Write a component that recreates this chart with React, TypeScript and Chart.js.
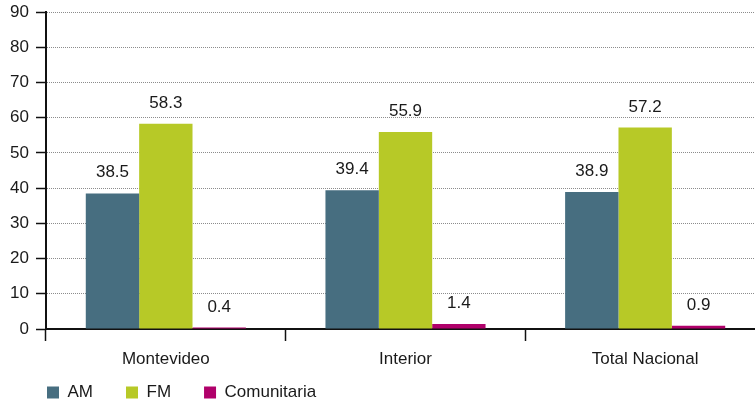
import React, { useEffect, useRef } from "react";
import { Chart, registerables } from "chart.js";

Chart.register(...registerables);

const categories = ["Montevideo", "Interior", "Total Nacional"];
const seriesNames = ["AM", "FM", "Comunitaria"];
const amValues = [38.5, 39.4, 38.9];
const fmValues = [58.3, 55.9, 57.2];
const comValues = [0.4, 1.4, 0.9];
const yMin = 0;
const yMax = 90;
const yStep = 10;

const FONT = "'Liberation Sans', Arial, sans-serif";
const FS = 17;
const TEXT = "#1a1a1a";
const colors = ["#476e80", "#b7c927", "#b0006a"];

const valueLabels = {
  id: "valueLabels",
  afterDatasetsDraw(chart: any) {
    const ctx = chart.ctx;
    ctx.save();
    ctx.font = `${FS}px ${FONT}`;
    ctx.fillStyle = TEXT;
    ctx.textAlign = "center";
    ctx.textBaseline = "alphabetic";
    chart.data.datasets.forEach((ds: any, di: number) => {
      const meta = chart.getDatasetMeta(di);
      meta.data.forEach((el: any, i: number) => {
        ctx.fillText(Number(ds.data[i]).toFixed(1), el.x, el.y - 16);
      });
    });
    ctx.restore();
  },
};

// nudge the legend row up/right so it sits like the reference
const legendPlace = {
  id: "legendPlace",
  afterLayout(chart: any) {
    const lg = chart.legend;
    if (!lg) return;
    lg.top -= 23;
    lg.left += 4;
  },
};

export default function App() {
  const ref = useRef<HTMLCanvasElement>(null);
  useEffect(() => {
    if (!ref.current) return;
    const chart = new Chart(ref.current, {
      type: "bar",
      data: {
        labels: categories,
        datasets: [amValues, fmValues, comValues].map((d, i) => ({
          label: seriesNames[i],
          data: d,
          backgroundColor: colors[i],
          borderWidth: 0,
          categoryPercentage: 0.668,
          barPercentage: 1,
        })),
      },
      options: {
        responsive: false,
        animation: false,
        events: [],
        layout: { padding: { left: 10, top: 12, right: 0, bottom: 0 } },
        plugins: {
          legend: {
            position: "bottom",
            align: "start",
            maxHeight: 28,
            labels: {
              boxWidth: 12,
              boxHeight: 12,
              padding: 33,
              color: TEXT,
              font: { family: FONT, size: FS },
            },
          },
          tooltip: { enabled: false },
        },
        scales: {
          x: {
            afterFit: (s: any) => {
              s.height = 45;
              s.paddingLeft = 0;
              s.paddingRight = 0;
            },
            grid: {
              offset: true,
              drawOnChartArea: false,
              drawTicks: true,
              tickLength: 12,
              tickColor: "#111",
              tickWidth: 1.5,
            },
            border: { display: true, color: "#111", width: 2 },
            ticks: {
              color: TEXT,
              padding: 8,
              font: { family: FONT, size: FS },
            },
          },
          y: {
            min: yMin,
            max: yMax,
            afterFit: (s: any) => {
              s.width = 36;
              s.paddingTop = 0;
              s.paddingBottom = 0;
            },
            ticks: {
              stepSize: yStep,
              color: TEXT,
              padding: 7,
              font: { family: FONT, size: FS },
            },
            grid: {
              color: "#8c8c8c",
              lineWidth: 1,
              drawTicks: true,
              tickLength: 10,
              tickColor: "#111",
              tickWidth: 1.5,
              tickBorderDash: [],
            },
            border: { display: true, color: "#111", width: 2, dash: [1, 1] },
          },
        },
      },
      plugins: [valueLabels, legendPlace],
    });
    return () => chart.destroy();
  }, []);
  return (
    <div style={{ position: "fixed", left: 0, top: 0, width: 755, height: 402, overflow: "hidden", background: "#fff" }}>
      <canvas ref={ref} width={765} height={402} style={{ display: "block" }} />
    </div>
  );
}
